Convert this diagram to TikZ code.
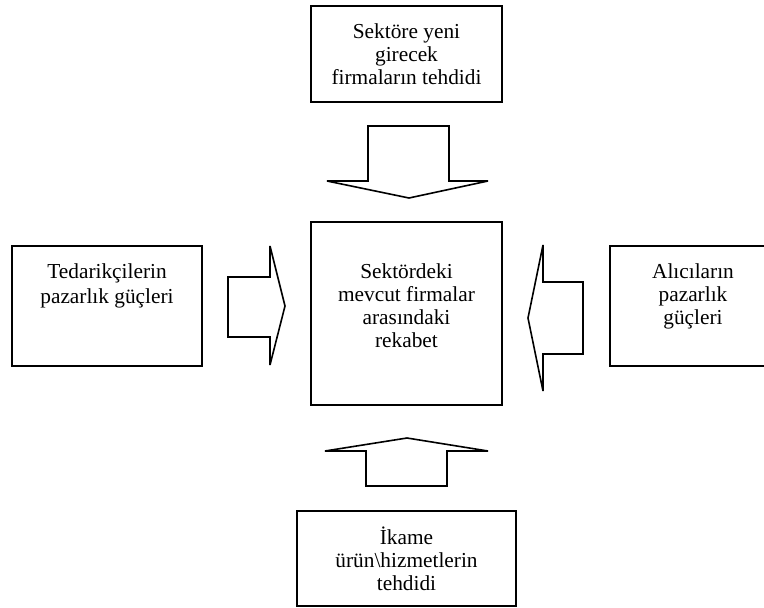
\documentclass[tikz,border=0pt]{standalone}
\usepackage{fontspec}
\setmainfont{Liberation Serif}
\begin{document}
\begin{tikzpicture}[x=0.75pt, y=-0.75pt,
  every node/.style={font=\fontsize{16}{17.4}\selectfont},
  force/.style={draw, line width=1.2pt, rectangle, inner sep=0pt, align=center},
  blockarrow/.style={draw, line width=1.2pt, line join=miter, miter limit=2}]
\useasboundingbox (0,0) rectangle (764,607);
\clip (0,0) rectangle (764,607);

% five forces
\node[force, minimum width=191*0.75pt, minimum height=96*0.75pt] (entry) at (406.5,54)
  {Sektöre yeni\\girecek\\firmaların tehdidi};
\node[force, minimum width=191*0.75pt, minimum height=183*0.75pt,
  label={[anchor=center, yshift=6pt, align=center]center:Sektördeki\\mevcut firmalar\\arasındaki\\rekabet}]
  (rivalry) at (406.5,313.5) {};
\node[force, minimum width=190*0.75pt, minimum height=120*0.75pt,
  label={[anchor=north, yshift=-10pt, align=center]north:Tedarikçilerin\\[2pt]pazarlık güçleri}]
  (suppliers) at (107,306) {};
\node[force, minimum width=190*0.75pt, minimum height=120*0.75pt,
  label={[anchor=north, yshift=-10pt, xshift=-9pt, align=center]north:Alıcıların\\pazarlık\\güçleri}]
  (buyers) at (705,306) {};
\node[force, minimum width=219*0.75pt, minimum height=95*0.75pt] (substitutes) at (406.5,558.5)
  {İkame\\ürün\textbackslash hizmetlerin\\tehdidi};

% block arrows pointing at the rivalry box
\draw[blockarrow] (368,126) -- (449,126) -- (449,181) -- (488,181) -- (409,198)
  -- (327,181) -- (368,181) -- cycle;
\draw[blockarrow] (228,277) -- (270,277) -- (270,246) -- (285,306) -- (270,365)
  -- (270,337) -- (228,337) -- cycle;
\draw[blockarrow] (583,282) -- (543,282) -- (543,245) -- (528,318) -- (543,391)
  -- (543,354) -- (583,354) -- cycle;
\draw[blockarrow] (366,486) -- (447,486) -- (447,451) -- (488,451) -- (407,438)
  -- (325,451) -- (366,451) -- cycle;
\end{tikzpicture}
\end{document}
